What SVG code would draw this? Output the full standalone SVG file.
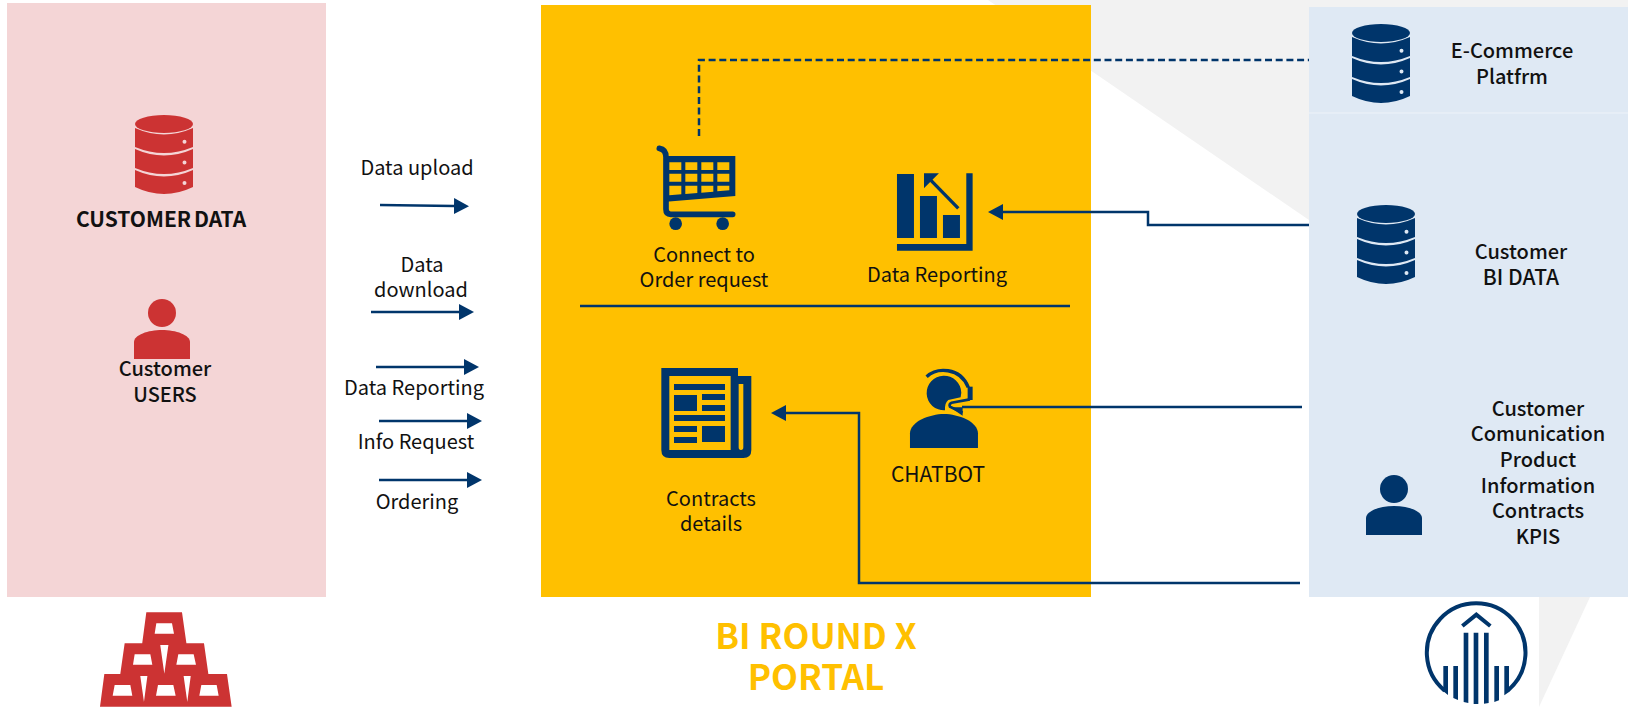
<svg xmlns="http://www.w3.org/2000/svg" width="1628" height="709" viewBox="0 0 1628 709">
<style>
text{font-family:"Noto Sans CJK KR","Noto Sans",sans-serif;font-size:20px;fill:#111;text-anchor:middle}
.b{font-weight:500}
.navy{fill:#00356B}
.red{fill:#CC3333}
.c{fill:none;stroke:#00356B;stroke-width:2.5}
.a{marker-end:url(#h)}
.t{font-size:35px;font-weight:700;fill:#FFC000}
</style>
<defs>
<marker id="h" markerUnits="userSpaceOnUse" markerWidth="16" markerHeight="18" refX="0" refY="8" orient="auto"><path d="M0 0L15 8L0 16Z" fill="#00356B"/></marker>
<symbol id="db" viewBox="0 0 58 79" width="58" height="79" overflow="visible">
<ellipse cx="29" cy="9" rx="29" ry="9"/>
<path fill-rule="evenodd" d="M0 13Q29 26 58 13V32Q29 44 0 32ZM47.5 26.700a2 2 0 1 0 4 0a2 2 0 1 0 -4 0Z"/>
<path fill-rule="evenodd" d="M0 34Q29 47 58 34V53Q29 65 0 53ZM47.500 47.500a2 2 0 1 0 4 0a2 2 0 1 0 -4 0Z"/>
<path fill-rule="evenodd" d="M0 55Q29 68 58 55V72Q29 86 0 72ZM47.500 68a2 2 0 1 0 4 0a2 2 0 1 0 -4 0Z"/>
</symbol>
<symbol id="person" viewBox="0 0 56 60" width="56" height="60" overflow="visible">
<circle cx="28" cy="14" r="14"/>
<path d="M0 60V43C0 36 14 31 28 31C42 31 56 36 56 43V60Z"/>
</symbol>
</defs>

<g id="background">
<rect width="1628" height="709" fill="#fff"/>
<path d="M988 0H1628V220H1309Z" fill="#F2F2F2"/>
<path d="M1539 597H1590L1539 707Z" fill="#F2F2F2"/>
</g>

<g id="panel-customer">
<rect x="7" y="3" width="319" height="594" fill="#F4D5D6"/>
</g>
<g id="panel-portal">
<rect x="541" y="5" width="550" height="592" fill="#FFC000"/>
<path d="M580 306H1070" class="c"/>
</g>
<g id="panel-sources">
<rect x="1309" y="7" width="319" height="590" fill="#DFE9F4"/>
<path d="M1309 113H1628" stroke="#EEF3F9" stroke-width="1"/>
</g>

<g id="connectors">
<path class="c" stroke-dasharray="7 3.700" d="M699 136V60H1309"/>
<path class="c a" d="M1309 225H1148V212H1003"/>
<path class="c" d="M1302 407H962"/>
<path class="c a" d="M1300 583H859V413H786"/>
<path class="c a" d="M380 205L454 206"/>
<path class="c a" d="M371 312H459"/>
<path class="c a" d="M376 367H464"/>
<path class="c a" d="M379 421H467"/>
<path class="c a" d="M379 480H467"/>
</g>

<g id="node-customer-data" class="red">
<use href="#db" x="135" y="115"/>
<text x="161" y="227" font-weight="700" style="font-size:21px;font-weight:700" word-spacing="-2">CUSTOMER DATA</text>
</g>
<g id="node-customer-users" class="red">
<use href="#person" x="134" y="299"/>
<text x="165" y="376" class="b">Customer</text>
<text x="165" y="402" class="b">USERS</text>
</g>

<g id="labels-flows">
<text x="417" y="175">Data upload</text>
<text x="422" y="272">Data</text>
<text x="421" y="297">download</text>
<text x="414" y="395">Data Reporting</text>
<text x="416" y="449">Info Request</text>
<text x="417" y="509">Ordering</text>
</g>

<g id="node-order">
<g transform="translate(620 120) scale(.3333)">
<path d="M118 85Q138 88 138 112V268Q138 283 152 283H338" fill="none" stroke="#00356B" stroke-width="17" stroke-linecap="round"/>
<path class="navy" fill-rule="evenodd" d="M138 108H346V228L138 245ZM148 127V150H184V127ZM196 127V150H232V127ZM244 127V150H280V127ZM292 127V150H328V127ZM148 161V185H184V161ZM196 161V185H232V161ZM244 161V185H280V161ZM292 161V185H328V161ZM148 197V226L184 223V197ZM196 197V222L232 219V197ZM244 197V218L280 215V197ZM292 197V214L328 211V197Z"/>
<circle class="navy" cx="167" cy="311" r="19"/>
<circle class="navy" cx="308" cy="311" r="19"/>
</g>
<text x="704" y="262">Connect to</text>
<text x="704" y="287">Order request</text>
</g>

<g id="node-reporting">
<g transform="translate(620 120) scale(.3333)" class="navy">
<rect x="831" y="162" width="51" height="192"/>
<rect x="900" y="228" width="51" height="126"/>
<rect x="969" y="285" width="51" height="69"/>
<path d="M1039 160H1058V392H831V372H1039Z"/>
<path d="M912 160H957L912 205Z"/>
<path d="M1015 265L930 178" stroke="#00356B" stroke-width="10"/>
</g>
<text x="937" y="282">Data Reporting</text>
</g>

<g id="node-contracts">
<g transform="translate(640 350) scale(.3333)">
<path class="navy" fill-rule="evenodd" d="M64 54H294V78H334V300Q334 324 310 324H88Q64 324 64 300ZM88 78V300H272V78ZM296 102V292Q296 300 303 300Q310 300 310 292V102Z"/>
<path class="navy" d="M102 102H255V120H102ZM102 135H171V183H102ZM186 132H255V150H186ZM186 165H255V183H186ZM102 195H255V213H102ZM102 228H171V246H102ZM102 261H171V279H102ZM186 228H255V276H186Z"/>
</g>
<text x="711" y="506">Contracts</text>
<text x="711" y="531">details</text>
</g>

<g id="node-chatbot">
<g transform="translate(640 350) scale(.3333)">
<path class="navy" d="M810 294V250C810 215 870 192 912 192C955 192 1014 215 1014 250V294Z"/>
<path class="navy" d="M915 181A52 52 0 1 1 964 128L962 142L925 150Q914 158 915 181Z"/>
<path d="M860 80C890 52 960 50 985 112" fill="none" stroke="#00356B" stroke-width="10"/>
<path class="navy" d="M983 110H998V150H983Z"/>
<path d="M990 148L935 158Q926 162 930 170L968 188" fill="none" stroke="#00356B" stroke-width="8"/>
<path class="navy" d="M930 172L968 172V197Z"/>
</g>
<text x="938" y="482" style="font-size:21px">CHATBOT</text>
</g>

<g id="node-ecommerce" class="navy">
<use href="#db" x="1352" y="24"/>
<text x="1512" y="58" class="b">E-Commerce</text>
<text x="1512" y="84" class="b">Platfrm</text>
</g>
<g id="node-bi-data" class="navy">
<use href="#db" x="1357" y="205"/>
<text x="1521" y="259" class="b">Customer</text>
<text x="1521" y="285" class="b" style="font-size:21px">BI DATA</text>
</g>
<g id="node-communication" class="navy">
<use href="#person" x="1366" y="475"/>
<text x="1538" y="416" class="b">Customer</text>
<text x="1538" y="441" class="b">Comunication</text>
<text x="1538" y="467" class="b">Product</text>
<text x="1538" y="493" class="b">Information</text>
<text x="1538" y="518" class="b">Contracts</text>
<text x="1538" y="544" class="b">KPIS</text>
</g>

<g id="logo-gold">
<g transform="translate(80 590) scale(.3333)">
<path class="red" d="M199 67H306L320 165H186ZM134 160H240L254 258H120ZM266 160H372L386 258H252ZM73 252H180L194 350H60ZM203 252H310L324 350H190ZM333 252H441L455 350H320Z"/>
<path fill="#fff" d="M229 100L224 131H282L276 100ZM164 193L159 224H217L211 193ZM295 193L289 224H348L341 193ZM104 285L98 317H157L151 285ZM234 285L228 317H287L280 285ZM364 285L358 317H416L410 285Z"/>
</g>
</g>
<g id="title">
<text x="816" y="649" class="t">BI ROUND X</text>
<text x="816" y="690" class="t">PORTAL</text>
</g>
<g id="logo-building">
<g transform="translate(1400 580) scale(.3333)">
<path d="M134 332A148 148 0 1 1 323 332" fill="none" stroke="#00356B" stroke-width="12"/>
<path d="M187 138L229 104L271 138" fill="none" stroke="#00356B" stroke-width="12"/>
<path class="navy" d="M130 258H144V345L130 334ZM160 258H174V360L160 354ZM191 158H205V369L191 366ZM221 158H235V372H221ZM252 158H266V369L252 371ZM283 258H297V361L283 366ZM313 258H327V336L313 346Z"/>
</g>
</g>
</svg>
